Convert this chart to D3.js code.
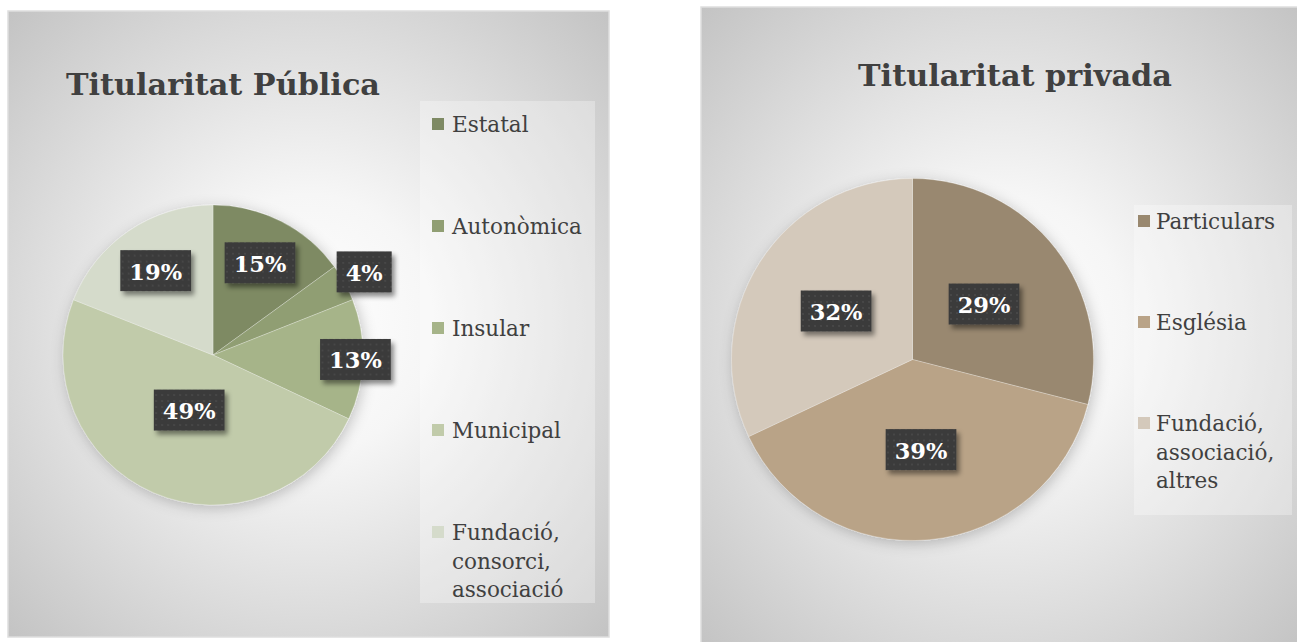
<!DOCTYPE html>
<html>
<head>
<meta charset="utf-8">
<script src="https://cdn.jsdelivr.net/npm/d3@7"></script>
<style>
  html, body { margin: 0; padding: 0; background: #ffffff; overflow: hidden; }
  svg { display: block; }
</style>
</head>
<body>
<svg id="chart" width="1297" height="642"></svg>
<script>
// Ownership of the collections: public vs private
const publicTitle = "Titularitat Pública";
const publicCategories = ["Estatal", "Autonòmica", "Insular", "Municipal", "Fundació, consorci, associació"];
const publicValues = [15, 4, 13, 49, 19];
const publicColors = ["#7e8a64", "#909e73", "#a6b489", "#c1cbaa", "#d5dbcb"];

const privateTitle = "Titularitat privada";
const privateCategories = ["Particulars", "Església", "Fundació, associació, altres"];
const privateValues = [29, 39, 32];
const privateColors = ["#99886f", "#b9a387", "#d4c9bb"];

const FONT = "'DejaVu Serif', 'Liberation Serif', serif";

// Layout of the two panels
const panels = [
  {
    id: "pub", title: publicTitle, categories: publicCategories, values: publicValues, colors: publicColors,
    box: { x: 8, y: 11, w: 601, h: 626 },
    titleX: 223, titleY: 95, titleWidth: 314,
    pie: { cx: 213, cy: 355, r: 150 },
    labelRadius: [0.69, 1.15, 0.95, 0.40, 0.68],
    legend: { x: 420, y: 101, w: 175, h: 502, sqX: 432, textX: 452, first: 132, step: 102, line: 28.5 }
  },
  {
    id: "priv", title: privateTitle, categories: privateCategories, values: privateValues, colors: privateColors,
    box: { x: 701, y: 7, w: 600, h: 640 },
    titleX: 1015, titleY: 86, titleWidth: 314,
    pie: { cx: 912.5, cy: 359.5, r: 181 },
    labelRadius: [0.5, 0.5, 0.5],
    legend: { x: 1134, y: 205, w: 158, h: 310, sqX: 1138, textX: 1156, first: 229, step: 101, line: 28.5 }
  }
];

const svg = d3.select("#chart");
const defs = svg.append("defs");

// Background: soft radial light
panels.forEach(p => {
  const g = defs.append("radialGradient")
    .attr("id", "bg-" + p.id)
    .attr("cx", 0.5).attr("cy", 0.5).attr("r", 0.74);
  g.append("stop").attr("offset", 0).attr("stop-color", "#ffffff");
  g.append("stop").attr("offset", 0.28).attr("stop-color", "#f6f6f6");
  g.append("stop").attr("offset", 1).attr("stop-color", "#c0c0c0");
});

// Dotted dark fill for the value labels
const pat = defs.append("pattern")
  .attr("id", "dots").attr("patternUnits", "userSpaceOnUse")
  .attr("width", 6).attr("height", 6);
pat.append("rect").attr("width", 6).attr("height", 6).attr("fill", "#3a3a3a");
pat.append("circle").attr("cx", 3).attr("cy", 3).attr("r", 0.9).attr("fill", "#4c4c4c");

// Shadow under the value labels
const lblShadow = defs.append("filter").attr("id", "lblShadow")
  .attr("x", "-30%").attr("y", "-30%").attr("width", "170%").attr("height", "180%");
lblShadow.append("feDropShadow")
  .attr("dx", 3).attr("dy", 4).attr("stdDeviation", 2.5)
  .attr("flood-color", "#000").attr("flood-opacity", 0.45);

// Soft halo around the pies
const pieShadow = defs.append("filter").attr("id", "pieShadow")
  .attr("x", "-20%").attr("y", "-20%").attr("width", "140%").attr("height", "140%");
pieShadow.append("feDropShadow")
  .attr("dx", 2).attr("dy", 3).attr("stdDeviation", 7)
  .attr("flood-color", "#000").attr("flood-opacity", 0.22);

panels.forEach(p => {
  const root = svg.append("g").attr("class", "panel-" + p.id);

  // Panel background
  root.append("rect")
    .attr("x", p.box.x).attr("y", p.box.y)
    .attr("width", p.box.w).attr("height", p.box.h)
    .attr("fill", `url(#bg-${p.id})`)
    .attr("stroke", "#dedede").attr("stroke-width", 1.5);

  // Title
  const title = root.append("text")
    .attr("x", p.titleX).attr("y", p.titleY)
    .attr("text-anchor", "middle")
    .attr("font-family", FONT).attr("font-weight", "bold")
    .attr("font-size", 26).attr("fill", "#404040")
    .text(p.title);
  const tw = title.node().getComputedTextLength();
  title.attr("font-size", 26 * p.titleWidth / tw);

  // Pie
  const pie = d3.pie().sort(null).value(d => d)(p.values);
  const arc = d3.arc().innerRadius(0).outerRadius(p.pie.r);
  const color = d3.scaleOrdinal().domain(p.categories).range(p.colors);

  const pg = root.append("g")
    .attr("transform", `translate(${p.pie.cx},${p.pie.cy})`);
  pg.append("g").attr("filter", "url(#pieShadow)")
    .selectAll("path").data(pie).join("path")
    .attr("d", arc)
    .attr("fill", (d, i) => color(p.categories[i]))
    .attr("stroke", "rgba(255,255,255,0.35)").attr("stroke-width", 0.75);

  // Value labels
  const labels = pg.append("g").selectAll("g").data(pie).join("g")
    .attr("transform", (d, i) => {
      const a = (d.startAngle + d.endAngle) / 2;
      const rr = p.pie.r * p.labelRadius[i];
      return `translate(${Math.sin(a) * rr},${-Math.cos(a) * rr})`;
    });
  labels.each(function (d) {
    const g = d3.select(this);
    const bg = g.append("rect").attr("fill", "url(#dots)").attr("filter", "url(#lblShadow)");
    const t = g.append("text")
      .attr("text-anchor", "middle").attr("dominant-baseline", "central")
      .attr("y", 1)
      .attr("font-family", FONT).attr("font-weight", "bold")
      .attr("font-size", 22.5).attr("fill", "#ffffff")
      .text(d.data + "%");
    const w = Math.max(55, t.node().getComputedTextLength() + 18);
    const h = 41;
    bg.attr("x", -w / 2).attr("y", -h / 2).attr("width", w).attr("height", h);
  });

  // Legend
  const L = p.legend;
  root.append("rect")
    .attr("x", L.x).attr("y", L.y).attr("width", L.w).attr("height", L.h)
    .attr("fill", "#ffffff").attr("fill-opacity", 0.3);
  const items = root.append("g").selectAll("g").data(p.categories).join("g")
    .attr("transform", (d, i) => `translate(0,${L.first + i * L.step})`);
  items.append("rect")
    .attr("x", L.sqX).attr("y", -14).attr("width", 12).attr("height", 12)
    .attr("fill", d => color(d));
  items.append("text")
    .attr("font-family", FONT).attr("font-size", 21.5).attr("fill", "#404040")
    .selectAll("tspan").data(d => d.split(" ")).join("tspan")
    .attr("x", L.textX).attr("y", (d, j) => j * L.line)
    .text(d => d);
});
</script>
</body>
</html>
